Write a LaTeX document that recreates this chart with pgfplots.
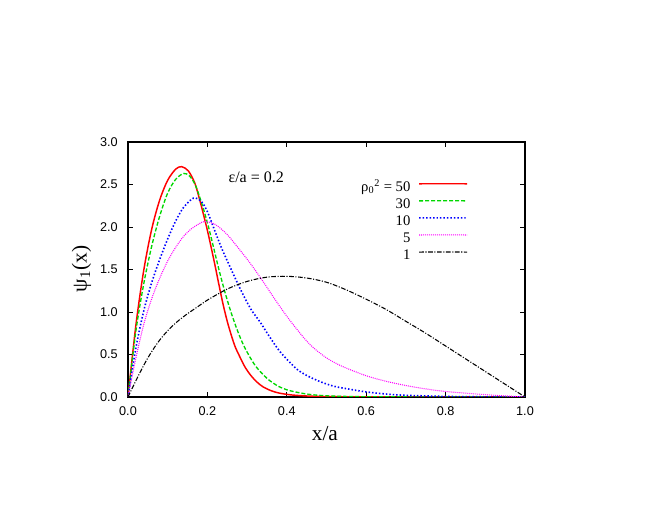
\documentclass[border=0pt]{standalone}
\usepackage{fontspec}
\setmainfont{Liberation Serif}
\newfontfamily\tickfont{Liberation Sans}
\usepackage{pgfplots}
\pgfplotsset{compat=1.18}

\definecolor{gpred}{RGB}{255,0,0}
\definecolor{gpgreen}{RGB}{0,215,0}
\definecolor{gpblue}{RGB}{0,0,255}
\definecolor{gpmagenta}{RGB}{255,0,255}

\begin{document}
\begin{tikzpicture}
% full canvas, 1px = 0.75pt
\path[use as bounding box] (-96pt,-84.75pt) rectangle (399pt,297.75pt);
\begin{axis}[
    at={(0pt,0pt)}, anchor=south west,
    scale only axis,
    width=297.75pt, height=191.25pt,
    xmin=0, xmax=1, ymin=0, ymax=3,
    xtick={0,0.2,0.4,0.6,0.8,1},
    ytick={0,0.5,1,1.5,2,2.5,3},
    tick pos=both,
    tick align=inside,
    major tick length=3.5pt,
    axis line style={black, line width=0.8pt},
    every tick/.style={black, line width=0.6pt},
    /pgf/number format/.cd, fixed, fixed zerofill, precision=1, assume math mode=true,
    /pgfplots/.cd,
    every tick label/.append style={font=\tickfont\fontsize{9.5}{11}\selectfont, inner sep=0pt},
    xticklabel style={yshift=-7pt},
    yticklabel style={xshift=-7.5pt},
    xlabel={x/a},
    ylabel={ψ\textsubscript{1}(x)},
    every axis x label/.style={at={(axis description cs:0.496,-0.1725)}, anchor=base, font=\fontsize{16}{18}\selectfont},
    every axis y label/.style={at={(axis description cs:-0.104,0.502)}, rotate=90, anchor=base, font=\fontsize{16}{18}\selectfont},
    legend style={draw=none, fill=none, at={(rel axis cs:0.8564,0.849)}, anchor=north east,
        inner sep=0pt, outer sep=0pt, font=\fontsize{11}{12}\selectfont,
        row sep=2.5pt, column sep=6pt,
        nodes={inner sep=0pt, text height=8.3pt, text depth=2pt}},
    legend cell align=right,
    legend plot pos=right,
    legend image code/.code={\draw[#1] (0pt,2.7pt) -- (18pt,2.72pt) -- (36pt,2.7pt);},
]

% rho_0^2 = 50
\addplot[gpred, line width=1.1pt, smooth] coordinates {
(0,0) (0.02,0.85) (0.04,1.5) (0.06,1.98) (0.08,2.32) (0.1,2.55) (0.12,2.68)
(0.135,2.71) (0.152,2.66) (0.168,2.52) (0.18,2.33) (0.19,2.15)
(0.2,1.96) (0.21,1.75) (0.22,1.53) (0.23,1.30) (0.24,1.08) (0.25,0.89)
(0.26,0.73) (0.27,0.59) (0.282,0.47) (0.295,0.35) (0.31,0.25) (0.325,0.175)
(0.34,0.12) (0.36,0.075) (0.38,0.047) (0.41,0.025) (0.45,0.012) (0.5,0.005)
(0.6,0.001) (0.7,0) (1,0)
};
\addlegendentry{ρ\textsubscript{0}\textsuperscript{2} = 50}

% 30
\addplot[gpgreen, line width=1pt, dash pattern=on 3pt off 1.5pt, smooth] coordinates {
(0,0) (0.02,0.78) (0.04,1.34) (0.06,1.78) (0.08,2.13) (0.1,2.4) (0.12,2.56)
(0.14,2.63) (0.155,2.6) (0.17,2.49) (0.185,2.29) (0.2,2.05)
(0.215,1.77) (0.229,1.5) (0.245,1.22) (0.26,0.99) (0.275,0.79) (0.29,0.62)
(0.307,0.47) (0.322,0.36) (0.337,0.28) (0.355,0.2) (0.379,0.125) (0.4,0.085)
(0.421,0.06) (0.45,0.035) (0.48,0.02) (0.52,0.01) (0.6,0.003) (0.7,0.001) (1,0)
};
\addlegendentry{30}

% 10
\addplot[gpblue, line width=1.2pt, dash pattern=on 1.1pt off 1.5pt, smooth] coordinates {
(0,0) (0.02,0.58) (0.04,1.02) (0.06,1.35) (0.08,1.62) (0.1,1.86)
(0.12,2.07) (0.14,2.23) (0.165,2.34) (0.185,2.3) (0.2,2.18) (0.215,2.0)
(0.235,1.76) (0.26,1.5) (0.285,1.25) (0.31,1.03) (0.333,0.88) (0.355,0.72)
(0.38,0.55) (0.405,0.42) (0.43,0.31) (0.46,0.23) (0.49,0.17) (0.52,0.125)
(0.56,0.09) (0.6,0.06) (0.65,0.035) (0.7,0.02) (0.8,0.007) (0.9,0.002) (1,0)
};
\addlegendentry{10}

% 5
\addplot[gpmagenta, line width=0.8pt, dash pattern=on 0.7pt off 0.8pt, smooth] coordinates {
(0,0) (0.02,0.46) (0.04,0.86) (0.06,1.16) (0.08,1.40) (0.1,1.60) (0.12,1.76)
(0.14,1.89) (0.16,1.98) (0.18,2.04) (0.194,2.065) (0.22,2.03) (0.25,1.91) (0.28,1.74)
(0.31,1.56) (0.34,1.36) (0.37,1.15) (0.4,0.95) (0.43,0.77) (0.46,0.61)
(0.5,0.46) (0.54,0.36) (0.6,0.25) (0.65,0.185) (0.7,0.135) (0.75,0.095)
(0.8,0.065) (0.85,0.045) (0.9,0.028) (0.95,0.013) (1,0)
};
\addlegendentry{5}

% 1
\addplot[black, line width=0.8pt, dash pattern=on 3.5pt off 1.2pt on 0.8pt off 1.2pt, smooth] coordinates {
(0,0) (0.025,0.24) (0.05,0.46) (0.075,0.64) (0.1,0.78) (0.125,0.89) (0.15,0.98)
(0.175,1.06) (0.2,1.14) (0.25,1.27) (0.3,1.36) (0.35,1.41) (0.4,1.42) (0.45,1.40)
(0.5,1.35) (0.55,1.26) (0.6,1.15) (0.65,1.03) (0.7,0.89) (0.75,0.75)
(0.8,0.6) (0.85,0.45) (0.9,0.3) (0.95,0.15) (1,0)
};
\addlegendentry{1}

\node[anchor=base west, inner sep=0pt, font=\fontsize{12}{14}\selectfont] at (axis cs:0.2526,2.521) {ε/a = 0.2};
\end{axis}
\end{tikzpicture}
\end{document}
